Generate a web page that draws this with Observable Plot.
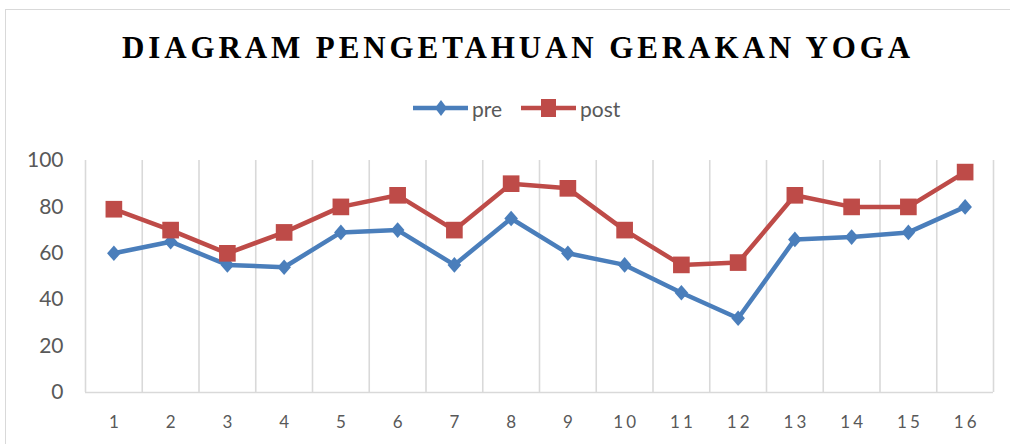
<!DOCTYPE html>
<html>
<head>
<meta charset="utf-8">
<script src="https://cdn.jsdelivr.net/npm/d3@7"></script>
<script src="https://cdn.jsdelivr.net/npm/@observablehq/plot@0.6"></script>
<style>
  html, body { margin: 0; padding: 0; background: #fff; }
  #wrap { position: relative; width: 1010px; height: 444px; overflow: hidden; font-family: Lato, "Open Sans", sans-serif; }
  #frame { position: absolute; left: 5px; top: 9px; width: 1100px; height: 600px; border: 1.5px solid #d9d9d9; box-sizing: border-box; }
  #title { position: absolute; left: 0; width: 1036px; top: 33px; text-align: center; font-family: "Liberation Serif", "Times New Roman", serif; font-weight: bold; font-size: 31px; line-height: 30px; letter-spacing: 3.9px; color: #000; white-space: nowrap; }
  #legend { position: absolute; left: 413px; top: 95px; height: 26px; display: flex; align-items: center; font-size: 21px; color: #595959; }
  #legend .item { display: flex; align-items: center; margin-right: 19px; }
  #legend svg { margin-right: 4px; }
  #chart { position: absolute; left: 0; top: 140px; }
</style>
</head>
<body>
<div id="wrap">
  <div id="frame"></div>
  <div id="title">DIAGRAM PENGETAHUAN GERAKAN YOGA</div>
  <div id="legend"></div>
  <div id="chart"></div>
</div>
<script>
const categories = [1,2,3,4,5,6,7,8,9,10,11,12,13,14,15,16];
const preValues  = [60,65,55,54,69,70,55,75,60,55,43,32,66,67,69,80];
const postValues = [79,70,60,69,80,85,70,90,88,70,55,56,85,80,80,95];
const seriesNames = ["pre", "post"];
const seriesColors = ["#4a7ebb", "#be4b48"];
const yTicks = [0,20,40,60,80,100];

const pre = categories.map((c, i) => ({x: c, y: preValues[i]}));
const post = categories.map((c, i) => ({x: c, y: postValues[i]}));
const bounds = d3.range(categories.length + 1).map(i => categories[0] - 0.5 + i);

// Excel-style diamond: slightly taller than wide
const tallDiamond = {
  draw(context, size) {
    const r = Math.sqrt(size / Math.PI);
    context.moveTo(0, -r * 1.15);
    context.lineTo(r, 0);
    context.lineTo(0, r * 1.15);
    context.lineTo(-r, 0);
    context.closePath();
  }
};

const chart = Plot.plot({
  width: 1010,
  height: 304,
  marginLeft: 85,
  marginRight: 17,
  marginTop: 20,
  marginBottom: 52,
  style: {fontFamily: "Lato, 'Open Sans', sans-serif", fontSize: "21px", color: "#595959", background: "transparent"},
  x: {type: "linear", domain: [0.5, 16.5], ticks: categories, tickFormat: d => String(d), tickSize: 0, tickPadding: 23, label: null},
  y: {domain: [0, 100], ticks: yTicks, tickSize: 0, tickPadding: 22, label: null},
  marks: [
    Plot.ruleX(bounds, {y1: 0, y2: 100, stroke: "#d9d9d9", strokeWidth: 1.6}),
    Plot.ruleY([0], {stroke: "#d9d9d9", strokeWidth: 1.6}),
    Plot.line(pre, {x: "x", y: "y", stroke: seriesColors[0], strokeWidth: 4.5}),
    Plot.line(post, {x: "x", y: "y", stroke: seriesColors[1], strokeWidth: 4.5}),
    Plot.dot(pre, {x: "x", y: "y", symbol: tallDiamond, r: 6.8, fill: seriesColors[0], stroke: "none"}),
    Plot.dot(post, {x: "x", y: "y", symbol: "square", r: 9.4, fill: seriesColors[1], stroke: "none"})
  ]
});
chart.querySelectorAll('[aria-label="x-axis tick label"] text').forEach(t => {
  t.setAttribute("letter-spacing", "3px");
  t.setAttribute("font-size", "17px");
  t.setAttribute("dx", "1.5");
});
document.getElementById("chart").appendChild(chart);

// legend
const legend = document.getElementById("legend");
seriesNames.forEach((name, i) => {
  const item = document.createElement("div");
  item.className = "item";
  const marker = i === 0
    ? `<path d="M28,3 L34,11 L28,19 L22,11 Z" fill="${seriesColors[i]}"/>`
    : `<rect x="20" y="2" width="15" height="18" fill="${seriesColors[i]}"/>`;
  item.innerHTML = `<svg width="55" height="22"><line x1="0" x2="55" y1="11" y2="11" stroke="${seriesColors[i]}" stroke-width="4.5"/>${marker}</svg><span>${name}</span>`;
  legend.appendChild(item);
});
</script>
</body>
</html>
